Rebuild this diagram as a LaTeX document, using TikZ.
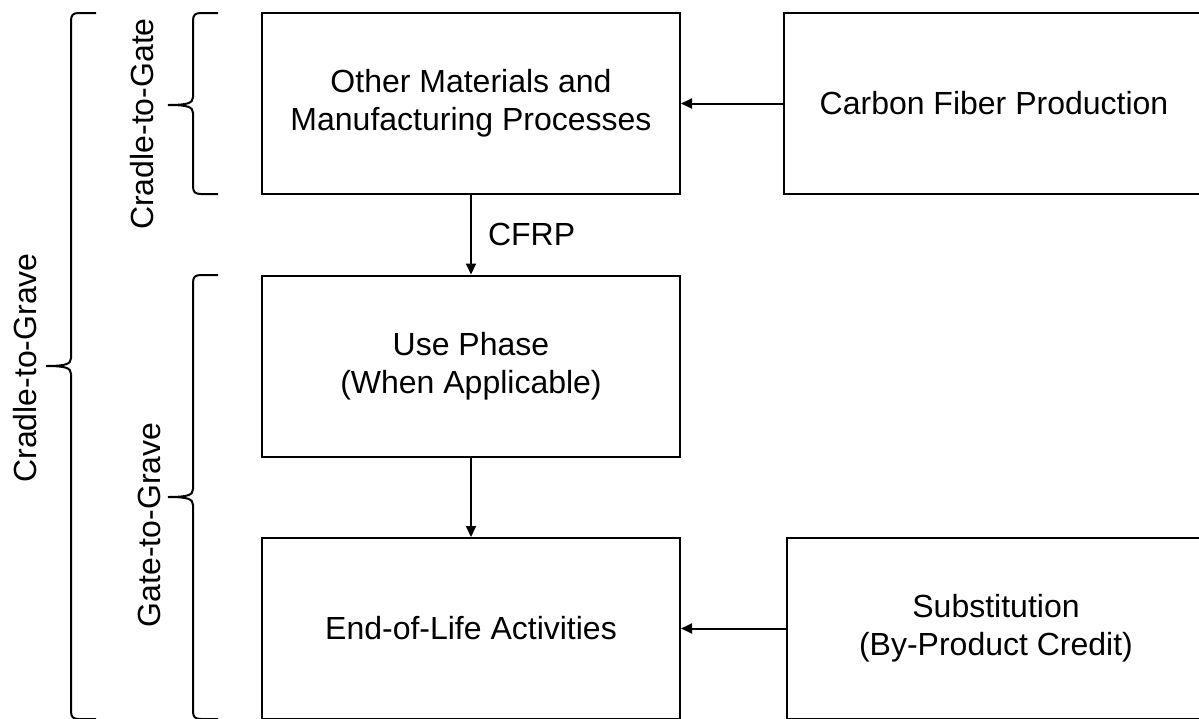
\documentclass[tikz,border=0pt]{standalone}
\usepackage{fontspec}
\setmainfont{Liberation Sans}
\usetikzlibrary{arrows.meta}

\begin{document}
\begin{tikzpicture}[x=0.5pt,y=-0.5pt,line width=1pt,>={Triangle[length=5.5pt,width=5pt]}]
				\tikzstyle{every node}=[font=\fontsize{16}{19}\selectfont,inner sep=0pt]
				\tikzstyle{box}=[draw,align=center,minimum width=209pt,minimum height=90.5pt]
				\tikzstyle{stage}=[rotate=90]
				\useasboundingbox (0,0) rectangle (1199,718);
				\clip (0,0) rectangle (1199,718);
				% process boxes
				\node[box] (omm) at (471,103.5) {Other Materials and\\Manufacturing Processes};
				\node[box,minimum width=210pt] (cfp) at (994,103.5) {Carbon Fiber Production};
				\node[box] (use) at (471,366) {Use Phase\\(When Applicable)};
				\node[box] (eol) at (471,628.5) {End-of-Life Activities};
				\node[box] (sub) at (996,628.5) {Substitution\\(By-Product Credit)};
				% flows
				\draw[->] (cfp.west) -- (omm.east);
				\draw[->] (omm.south) -- node[right=8pt] (cfrp) {CFRP} (use.north);
				\draw[->] (use.south) -- (eol.north);
				\draw[->] (sub.west) -- (eol.east);
				% braces
				\draw (218,13) -- (201,13) .. controls (195,13) and (193,15) .. (193,21) -- (193,97)
					.. controls (193,103) and (188,105) .. (168,105) .. controls (188,105) and (193,107) .. (193,113)
					-- (193,186) .. controls (193,192) and (195,194) .. (201,194) -- (218,194);
				\draw (218,275) -- (201,275) .. controls (195,275) and (193,277) .. (193,283) -- (193,489)
					.. controls (193,495) and (188,497) .. (168,497) .. controls (188,497) and (193,499) .. (193,505)
					-- (193,711) .. controls (193,717) and (195,719) .. (201,719) -- (218,719);
				\draw (96,13) -- (79,13) .. controls (73,13) and (71,15) .. (71,21) -- (71,358)
					.. controls (71,364) and (66,366) .. (46,366) .. controls (66,366) and (71,368) .. (71,374)
					-- (71,711) .. controls (71,717) and (73,719) .. (79,719) -- (96,719);
				\node[stage] (c2gate) at (142,124) {Cradle-to-Gate};
				\node[stage] (g2grave) at (149,525) {Gate-to-Grave};
				\node[stage] (c2grave) at (25,368) {Cradle-to-Grave};
\end{tikzpicture}
\end{document}
